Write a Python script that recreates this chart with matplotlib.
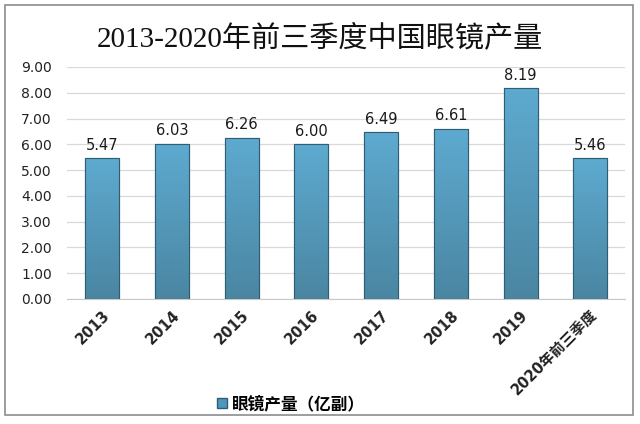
import numpy as np
import matplotlib
matplotlib.use("Agg")
import matplotlib.pyplot as plt
from matplotlib.patches import Rectangle

plt.rcParams['font.family'] = ['DejaVu Sans', 'Noto Sans CJK SC']

years  = ["2013", "2014", "2015", "2016", "2017", "2018", "2019", "2020年前三季度"]
output = [5.47, 6.03, 6.26, 6.00, 6.49, 6.61, 8.19, 5.46]
yticks = [0, 1, 2, 3, 4, 5, 6, 7, 8, 9]

fig = plt.figure(figsize=(6.4, 4.24), dpi=100)
ax = fig.add_axes([0.105, 0.295, 0.872, 0.547])

# frame around the whole chart
fig.patches.append(Rectangle((5 / 640, 1 - 415 / 424), 628 / 640, 410 / 424,
                             transform=fig.transFigure, fill=False,
                             edgecolor="#8c8c8c", linewidth=1.2))

x = np.arange(len(years))
bars = ax.bar(x, output, width=0.49, color="#4f97ba", edgecolor="#2e5d74",
              linewidth=0.8, label="眼镜产量（亿副）", zorder=3)

# vertical gradient inside each bar
grad = np.linspace(0, 1, 256).reshape(-1, 1)
cmap = matplotlib.colors.LinearSegmentedColormap.from_list("g", ["#4a86a2", "#5eaad0"])
for b in bars:
    x0, w, h = b.get_x(), b.get_width(), b.get_height()
    im = ax.imshow(grad, extent=[x0, x0 + w, 0, h], origin="lower", aspect="auto",
                   cmap=cmap, zorder=3.5)
    im.set_clip_path(b)
    ax.add_patch(Rectangle((x0, 0), w, h, fill=False, edgecolor="#2e5d74",
                           linewidth=0.8, zorder=4))

for xi, v in zip(x, output):
    ax.text(xi, v + 0.2, f"{v:.2f}", ha="center", va="bottom", fontsize=10.5,
            color="#1a1a1a", zorder=5)

ax.set_xlim(-0.5, len(years) - 0.5)
ax.set_ylim(0, 9)
ax.set_yticks(yticks)
ax.set_yticklabels([f"{t:.2f}" for t in yticks], fontsize=10, color="#222222")
ax.set_xticks(x)
ax.set_xticklabels(years, rotation=45, ha="right", rotation_mode="anchor",
                   fontsize=10.5, fontweight="bold", color="#222222")
ax.tick_params(axis="x", length=0, pad=6)
ax.tick_params(axis="y", length=0, pad=11)
ax.yaxis.grid(True, color="#d9d9d9", linewidth=0.9, zorder=0)
for s in ["top", "right", "left"]:
    ax.spines[s].set_visible(False)
ax.spines["bottom"].set_color("#c8c8c8")

fig.text(0.5, 1 - 38 / 424, "2013-2020年前三季度中国眼镜产量", ha="center", va="center",
         fontsize=21, family=["Liberation Serif", "Noto Sans CJK SC"], color="#111111")

fig.legend(handles=[Rectangle((0, 0), 1, 1, facecolor="#4f97ba", edgecolor="#2e5d74")],
           labels=["眼镜产量（亿副）"], loc="center", bbox_to_anchor=(0.455, 1 - 404 / 424),
           frameon=False, prop={"family": ["Noto Sans CJK SC"], "size": 12, "weight": "bold"},
           handlelength=0.6, handleheight=0.6, handletextpad=0.3)

fig.savefig("out.png", dpi=100)
